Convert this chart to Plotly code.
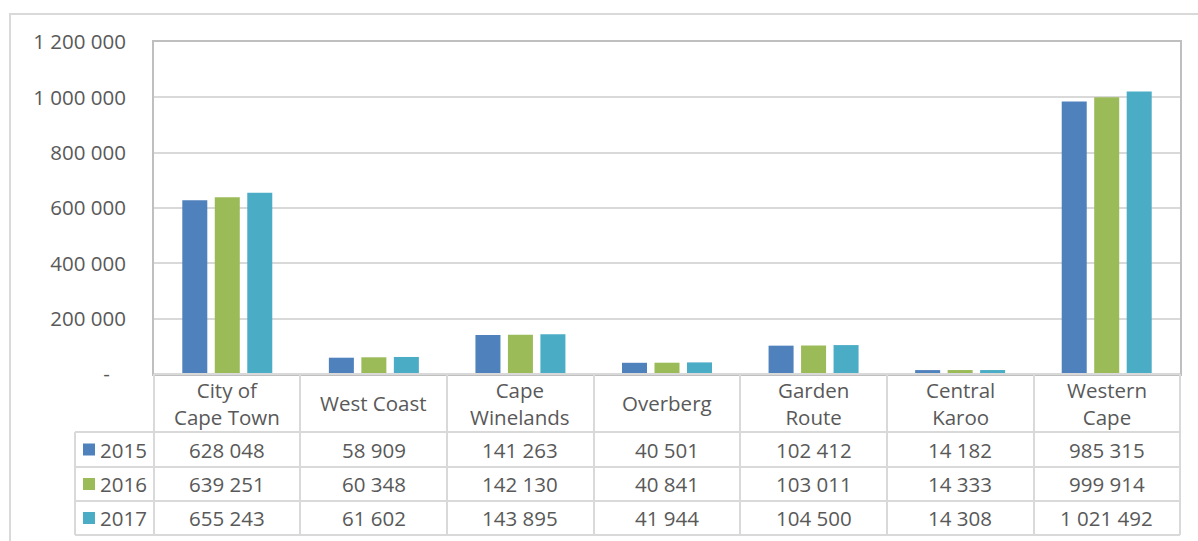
import plotly.graph_objects as go

# Population by district, Western Cape
categories = ["City of Cape Town", "West Coast", "Cape Winelands", "Overberg",
              "Garden Route", "Central Karoo", "Western Cape"]
header_labels = ["City of<br>Cape Town", "West Coast", "Cape<br>Winelands", "Overberg",
                 "Garden<br>Route", "Central<br>Karoo", "Western<br>Cape"]
years = ["2015", "2016", "2017"]
values_2015 = [628048, 58909, 141263, 40501, 102412, 14182, 985315]
values_2016 = [639251, 60348, 142130, 40841, 103011, 14333, 999914]
values_2017 = [655243, 61602, 143895, 41944, 104500, 14308, 1021492]
y_tick_values = [0, 200000, 400000, 600000, 800000, 1000000, 1200000]
y_tick_labels = ["-\u00a0\u00a0\u00a0", "200 000", "400 000", "600 000",
                 "800 000", "1 000 000", "1 200 000"]

series = [values_2015, values_2016, values_2017]
colors = ["#4F81BD", "#9BBB59", "#4BACC6"]

W, H = 1198, 541
L, R, T, B = 154, 1180, 42, 374
FONT = "Open Sans"
FS = 20.5
TXT = "#595959"
GRID = "#D9D9D9"


def xp(px):
    return (px - L) / (R - L)


def yp(py):
    return (B - py) / (B - T)


def fmt(v):
    return f"{v:,}".replace(",", " ")


fig = go.Figure()
for name, vals, col in zip(years, series, colors):
    fig.add_trace(go.Bar(x=categories, y=vals, name=name, marker_color=col,
                         marker_line_width=0, showlegend=False))

shapes = []
annotations = []


def line(x0, y0, x1, y1, color=GRID, width=2):
    shapes.append(dict(type="line", xref="paper", yref="paper",
                       x0=xp(x0), y0=yp(y0), x1=xp(x1), y1=yp(y1),
                       line=dict(color=color, width=width), layer="above"))


# outer chart frame
shapes.append(dict(type="rect", xref="paper", yref="paper",
                   x0=xp(10), y0=yp(14), x1=xp(1230), y1=yp(580),
                   line=dict(color=GRID, width=2), fillcolor="rgba(0,0,0,0)", layer="below"))

# data table grid
row_lines = [432, 467, 501, 535]
col_lines = [154, 300, 447, 594, 740, 887, 1034, 1180]
line(L, B, R, B)
for yy in row_lines:
    line(75, yy, R, yy)
for xx in col_lines:
    line(xx, B, xx, 535)
line(75, 432, 75, 535)

# header row: category names
for cat, lab in zip(categories, header_labels):
    annotations.append(dict(x=cat, xref="x", y=yp(403), yref="paper", text=lab,
                            showarrow=False, xanchor="center", yanchor="middle",
                            font=dict(family=FONT, size=FS, color=TXT)))

# value rows with legend keys
row_centers = [449.5, 484, 518]
for yr, vals, col, yc in zip(years, series, colors, row_centers):
    shapes.append(dict(type="rect", xref="paper", yref="paper",
                       x0=xp(83), x1=xp(95), y0=yp(yc - 6), y1=yp(yc + 6),
                       fillcolor=col, line=dict(width=0)))
    annotations.append(dict(x=xp(98), xref="paper", y=yp(yc), yref="paper", text=yr,
                            showarrow=False, xanchor="left", yanchor="middle",
                            font=dict(family=FONT, size=FS, color=TXT)))
    for cat, v in zip(categories, vals):
        annotations.append(dict(x=cat, xref="x", y=yp(yc), yref="paper", text=fmt(v),
                                showarrow=False, xanchor="center", yanchor="middle",
                                font=dict(family=FONT, size=FS, color=TXT)))

fig.update_layout(
    width=W, height=H,
    margin=dict(l=L, r=W - R, t=T, b=H - B),
    paper_bgcolor="white", plot_bgcolor="white",
    barmode="group", bargap=0.335, bargroupgap=0.23,
    shapes=shapes, annotations=annotations,
    font=dict(family=FONT, size=FS, color=TXT),
    xaxis=dict(showticklabels=False, showgrid=False, zeroline=False,
               showline=True, mirror=True, linecolor="#BFBFBF", linewidth=2,
               range=[-0.5, 6.5]),
    yaxis=dict(range=[0, 1200000], tickvals=y_tick_values, ticktext=y_tick_labels,
               showgrid=True, gridcolor=GRID, gridwidth=2, zeroline=False,
               showline=True, mirror=True, linecolor="#BFBFBF", linewidth=2,
               ticks="", ticklabelstandoff=22,
               tickfont=dict(family=FONT, size=FS, color=TXT)),
)

fig.write_html("out.html")
